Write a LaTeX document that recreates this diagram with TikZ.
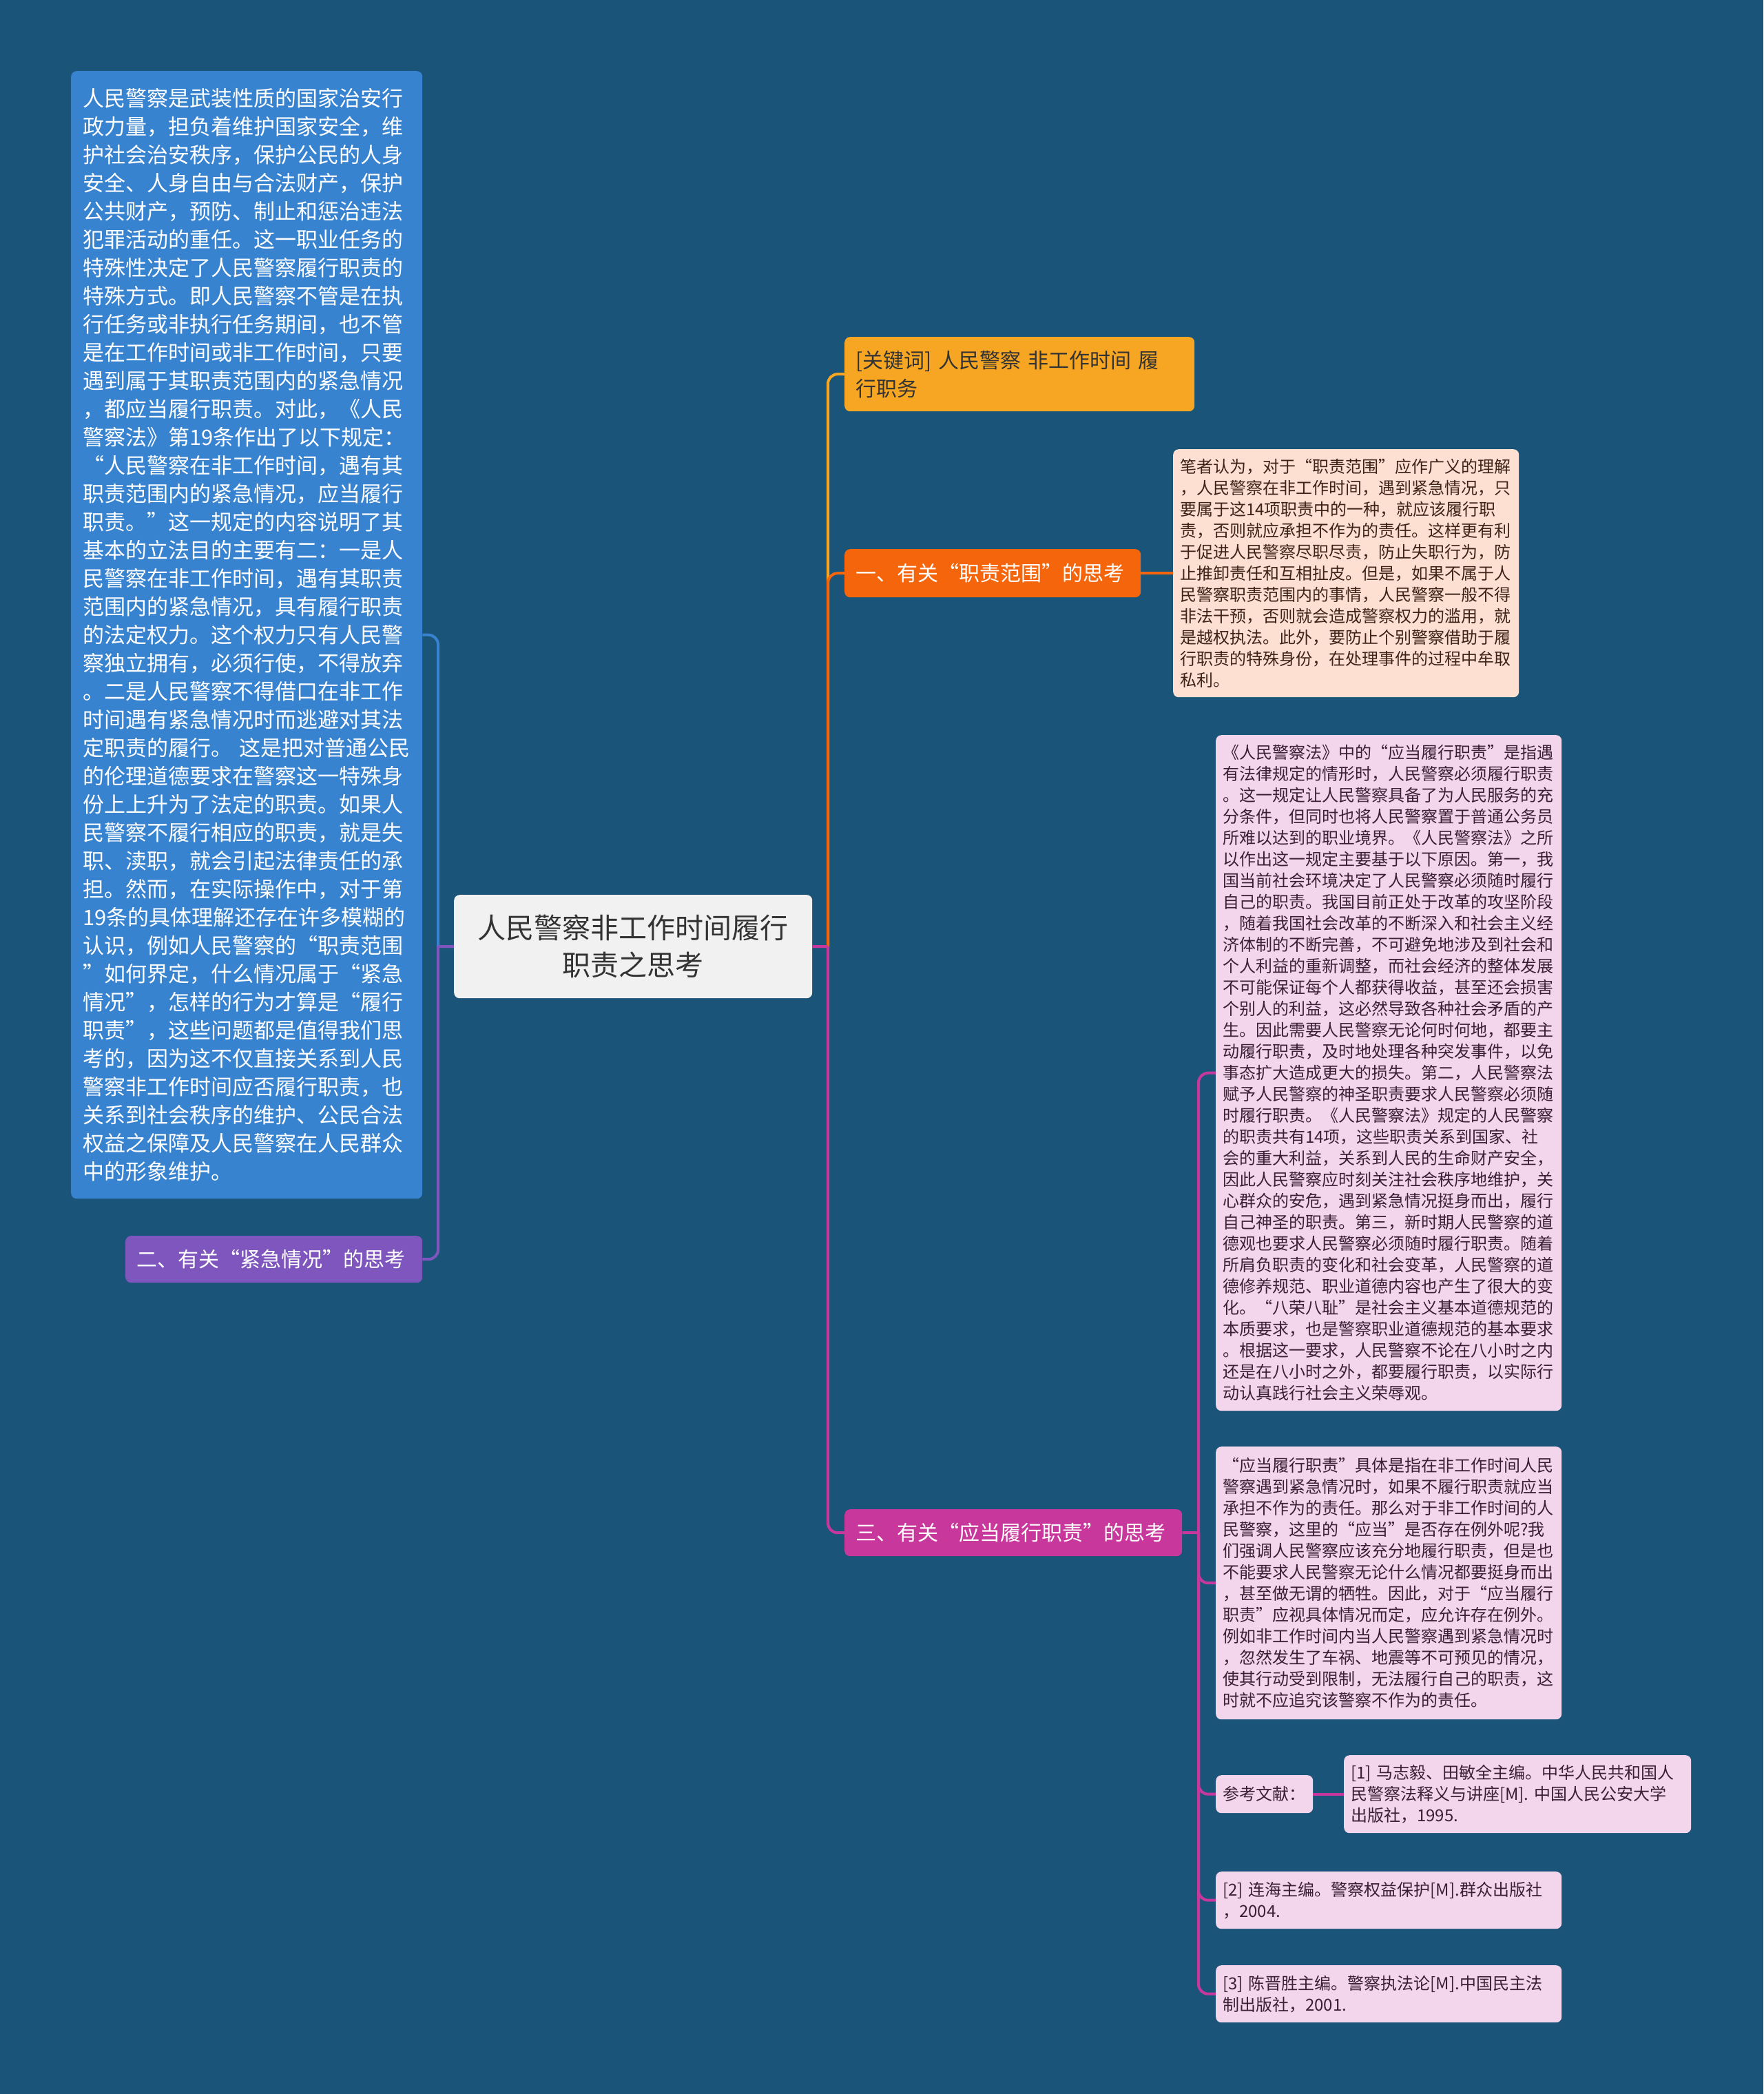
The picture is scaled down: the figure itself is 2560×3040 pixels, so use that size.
\documentclass[tikz,border=0pt]{standalone}
\usepackage{fontspec}
\setmainfont{Noto Sans CJK SC}
\definecolor{bg}{HTML}{1B5479}
\definecolor{cblue}{HTML}{3783D0}
\definecolor{cpurple}{HTML}{7F56BE}
\definecolor{cyellow}{HTML}{F6A623}
\definecolor{corange}{HTML}{F5650C}
\definecolor{cmagenta}{HTML}{C8379B}
\definecolor{cpeach}{HTML}{FDE0D2}
\definecolor{cpink}{HTML}{F3D6EB}
\definecolor{ccenter}{HTML}{F1F1F1}
\definecolor{tpeach}{HTML}{3D2318}
\definecolor{tpink}{HTML}{3B1F35}
\definecolor{tdark}{HTML}{333333}
\begin{document}
\begin{tikzpicture}[x=1pt,y=-1pt,
  box/.style={rectangle, rounded corners=8pt, anchor=north west, inner ysep=0pt, align=left},
  bigtext/.style={font=\fontsize{31}{41}\selectfont},
  midtext/.style={font=\fontsize{30}{41}\selectfont},
  smalltext/.style={font=\fontsize{24}{31}\selectfont},
  conn/.style={line width=4pt, rounded corners=14pt},
  stub/.style={line width=4pt}]
\useasboundingbox (0,0) rectangle (2560,3040);
\fill[bg] (0,0) rectangle (2560,3040);

% central
\node[box, fill=ccenter, text=tdark, align=center, minimum height=150pt, text width=480pt, inner xsep=20pt,
  font=\fontsize{41}{54}\selectfont] (ct) at (659,1299) {人民警察非工作时间履行\\职责之思考};

% left side
\node[box, fill=cblue, text=white, bigtext, minimum height=1637pt, text width=476pt, inner xsep=17pt] (lb) at (103,103) {%
人民警察是武装性质的国家治安行\\
政力量，担负着维护国家安全，维\\
护社会治安秩序，保护公民的人身\\
安全、人身自由与合法财产，保护\\
公共财产，预防、制止和惩治违法\\
犯罪活动的重任。这一职业任务的\\
特殊性决定了人民警察履行职责的\\
特殊方式。即人民警察不管是在执\\
行任务或非执行任务期间，也不管\\
是在工作时间或非工作时间，只要\\
遇到属于其职责范围内的紧急情况\\
，都应当履行职责。对此，《人民\\
警察法》第19条作出了以下规定：\\
“人民警察在非工作时间，遇有其\\
职责范围内的紧急情况，应当履行\\
职责。”这一规定的内容说明了其\\
基本的立法目的主要有二：一是人\\
民警察在非工作时间，遇有其职责\\
范围内的紧急情况，具有履行职责\\
的法定权力。这个权力只有人民警\\
察独立拥有，必须行使，不得放弃\\
。二是人民警察不得借口在非工作\\
时间遇有紧急情况时而逃避对其法\\
定职责的履行。~这是把对普通公民\\
的伦理道德要求在警察这一特殊身\\
份上上升为了法定的职责。如果人\\
民警察不履行相应的职责，就是失\\
职、渎职，就会引起法律责任的承\\
担。然而，在实际操作中，对于第\\
19条的具体理解还存在许多模糊的\\
认识，例如人民警察的“职责范围\\
”如何界定，什么情况属于“紧急\\
情况”，怎样的行为才算是“履行\\
职责”，这些问题都是值得我们思\\
考的，因为这不仅直接关系到人民\\
警察非工作时间应否履行职责，也\\
关系到社会秩序的维护、公民合法\\
权益之保障及人民警察在人民群众\\
中的形象维护。};

\node[box, fill=cpurple, text=white, midtext, minimum height=68pt, text width=399pt, inner xsep=16pt] (p2) at (182,1794) {二、有关“紧急情况”的思考};

% right side
\node[box, fill=cyellow, text=tdark, midtext, minimum height=108pt, text width=476pt, inner xsep=16pt] (kw) at (1226,489) {[关键词] 人民警察 非工作时间 履\\行职务};

\node[box, fill=corange, text=white, midtext, minimum height=70pt, text width=398pt, inner xsep=16pt] (o1) at (1226,797) {一、有关“职责范围”的思考};

\node[box, fill=cpeach, text=tpeach, smalltext, minimum height=360pt, text width=482pt, inner xsep=10pt] (pe) at (1703,652) {%
笔者认为，对于“职责范围”应作广义的理解\\
，人民警察在非工作时间，遇到紧急情况，只\\
要属于这14项职责中的一种，就应该履行职\\
责，否则就应承担不作为的责任。这样更有利\\
于促进人民警察尽职尽责，防止失职行为，防\\
止推卸责任和互相扯皮。但是，如果不属于人\\
民警察职责范围内的事情，人民警察一般不得\\
非法干预，否则就会造成警察权力的滥用，就\\
是越权执法。此外，要防止个别警察借助于履\\
行职责的特殊身份，在处理事件的过程中牟取\\
私利。};

\node[box, fill=cmagenta, text=white, midtext, minimum height=68pt, text width=458pt, inner xsep=16pt] (m3) at (1226,2191) {三、有关“应当履行职责”的思考};

\node[box, fill=cpink, text=tpink, smalltext, minimum height=981pt, text width=482pt, inner xsep=10pt] (pk1) at (1765,1067) {%
《人民警察法》中的“应当履行职责”是指遇\\
有法律规定的情形时，人民警察必须履行职责\\
。这一规定让人民警察具备了为人民服务的充\\
分条件，但同时也将人民警察置于普通公务员\\
所难以达到的职业境界。《人民警察法》之所\\
以作出这一规定主要基于以下原因。第一，我\\
国当前社会环境决定了人民警察必须随时履行\\
自己的职责。我国目前正处于改革的攻坚阶段\\
，随着我国社会改革的不断深入和社会主义经\\
济体制的不断完善，不可避免地涉及到社会和\\
个人利益的重新调整，而社会经济的整体发展\\
不可能保证每个人都获得收益，甚至还会损害\\
个别人的利益，这必然导致各种社会矛盾的产\\
生。因此需要人民警察无论何时何地，都要主\\
动履行职责，及时地处理各种突发事件，以免\\
事态扩大造成更大的损失。第二，人民警察法\\
赋予人民警察的神圣职责要求人民警察必须随\\
时履行职责。《人民警察法》规定的人民警察\\
的职责共有14项，这些职责关系到国家、社\\
会的重大利益，关系到人民的生命财产安全，\\
因此人民警察应时刻关注社会秩序地维护，关\\
心群众的安危，遇到紧急情况挺身而出，履行\\
自己神圣的职责。第三，新时期人民警察的道\\
德观也要求人民警察必须随时履行职责。随着\\
所肩负职责的变化和社会变革，人民警察的道\\
德修养规范、职业道德内容也产生了很大的变\\
化。“八荣八耻”是社会主义基本道德规范的\\
本质要求，也是警察职业道德规范的基本要求\\
。根据这一要求，人民警察不论在八小时之内\\
还是在八小时之外，都要履行职责，以实际行\\
动认真践行社会主义荣辱观。};

\node[box, fill=cpink, text=tpink, smalltext, minimum height=396pt, text width=482pt, inner xsep=10pt] (pk2) at (1765,2100) {%
“应当履行职责”具体是指在非工作时间人民\\
警察遇到紧急情况时，如果不履行职责就应当\\
承担不作为的责任。那么对于非工作时间的人\\
民警察，这里的“应当”是否存在例外呢?我\\
们强调人民警察应该充分地履行职责，但是也\\
不能要求人民警察无论什么情况都要挺身而出\\
，甚至做无谓的牺牲。因此，对于“应当履行\\
职责”应视具体情况而定，应允许存在例外。\\
例如非工作时间内当人民警察遇到紧急情况时\\
，忽然发生了车祸、地震等不可预见的情况，\\
使其行动受到限制，无法履行自己的职责，这\\
时就不应追究该警察不作为的责任。};

\node[box, fill=cpink, text=tpink, smalltext, minimum height=55pt, text width=121pt, inner xsep=10pt] (rl) at (1765,2577) {参考文献：};

\node[box, fill=cpink, text=tpink, smalltext, minimum height=113pt, text width=484pt, inner xsep=10pt] (r1) at (1951,2548) {%
[1] 马志毅、田敏全主编。中华人民共和国人\\
民警察法释义与讲座[M]. 中国人民公安大学\\
出版社，1995.};

\node[box, fill=cpink, text=tpink, smalltext, minimum height=83pt, text width=482pt, inner xsep=10pt] (r2) at (1765,2717) {%
[2] 连海主编。警察权益保护[M].群众出版社\\
，2004.};

\node[box, fill=cpink, text=tpink, smalltext, minimum height=83pt, text width=482pt, inner xsep=10pt] (r3) at (1765,2853) {%
[3] 陈晋胜主编。警察执法论[M].中国民主法\\
制出版社，2001.};

% junctions
\coordinate (lj) at (636,1374);
\coordinate (rj) at (1202,1374);
\coordinate (mj) at (1740,2225);

% connectors
\draw[conn, cblue] (lj) |- (lb.east);
\draw[conn, cpurple] (lj) |- (p2.east);
\draw[stub, cpurple] (ct.west) -- (lj);
\draw[conn, cyellow] (rj) |- (kw.west);
\draw[conn, corange] (rj) |- (o1.west);
\draw[conn, cmagenta] (rj) |- (m3.west);
\draw[stub, cmagenta] (ct.east) -- (rj);
\draw[stub, corange] (o1.east) -- (pe.west);
\draw[conn, cmagenta] (mj) |- (pk1.west);
\draw[conn, cmagenta] (mj) |- (pk2.west);
\draw[conn, cmagenta] (mj) |- (rl.west);
\draw[conn, cmagenta] (mj) |- (r2.west);
\draw[conn, cmagenta] (mj) |- (r3.west);
\draw[stub, cmagenta] (m3.east) -- (mj);
\draw[stub, cmagenta] (rl.east) -- (r1.west);
\end{tikzpicture}
\end{document}
